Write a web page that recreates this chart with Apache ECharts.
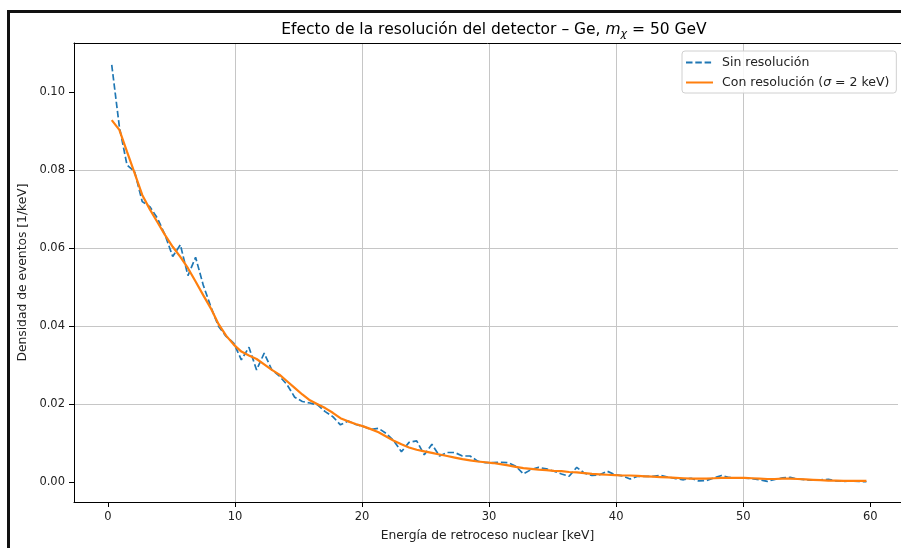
<!DOCTYPE html>
<html>
<head>
<meta charset="utf-8">
<script src="https://cdn.jsdelivr.net/npm/echarts@6/dist/echarts.min.js"></script>
<style>
  html, body { margin: 0; padding: 0; background: #fff; overflow: hidden; }
  #chart { width: 901px; height: 548px; }
</style>
</head>
<body>
<div id="chart"></div>
<script>
// Bin centres of the recoil-energy histogram [keV]
const energia = [
  0.3, 0.9, 1.5, 2.1, 2.7, 3.3, 3.9, 4.5, 5.1, 5.7,
  6.3, 6.9, 7.5, 8.1, 8.7, 9.3, 9.9, 10.5, 11.1, 11.7,
  12.3, 12.9, 13.5, 14.1, 14.7, 15.3, 15.9, 16.5, 17.1, 17.7,
  18.3, 18.9, 19.5, 20.1, 20.7, 21.3, 21.9, 22.5, 23.1, 23.7,
  24.3, 24.9, 25.5, 26.1, 26.7, 27.3, 27.9, 28.5, 29.1, 29.7,
  30.3, 30.9, 31.5, 32.1, 32.7, 33.3, 33.9, 34.5, 35.1, 35.7,
  36.3, 36.9, 37.5, 38.1, 38.7, 39.3, 39.9, 40.5, 41.1, 41.7,
  42.3, 42.9, 43.5, 44.1, 44.7, 45.3, 45.9, 46.5, 47.1, 47.7,
  48.3, 48.9, 49.5, 50.1, 50.7, 51.3, 51.9, 52.5, 53.1, 53.7,
  54.3, 54.9, 55.5, 56.1, 56.7, 57.3, 57.9, 58.5, 59.1, 59.7
];

// Event density without detector resolution [1/keV]
const sinResolucion = [
  0.1071, 0.0912, 0.0814, 0.0797, 0.0720, 0.0707, 0.0677, 0.0634, 0.0579, 0.0609,
  0.0530, 0.0577, 0.0506, 0.0450, 0.0400, 0.0374, 0.0357, 0.0314, 0.0346, 0.0288,
  0.0331, 0.0288, 0.0272, 0.0250, 0.0218, 0.0207, 0.0203, 0.0198, 0.0181, 0.0168,
  0.0147, 0.0157, 0.0148, 0.0143, 0.0135, 0.0138, 0.0125, 0.0106, 0.0078, 0.0102,
  0.0106, 0.0070, 0.0097, 0.0067, 0.0076, 0.0076, 0.0067, 0.0067, 0.0054, 0.0050,
  0.0050, 0.0051, 0.0050, 0.0041, 0.0021, 0.0032, 0.0038, 0.0034, 0.0028, 0.0021,
  0.0015, 0.0038, 0.0023, 0.0017, 0.0019, 0.0028, 0.0019, 0.0016, 0.0008, 0.0015,
  0.0015, 0.0015, 0.0017, 0.0013, 0.0009, 0.0006, 0.0010, 0.0003, 0.0004, 0.0011,
  0.0017, 0.0012, 0.0010, 0.0010, 0.0009, 0.0006, 0.0002, 0.0007, 0.0011, 0.0012,
  0.0008, 0.0006, 0.0005, 0.0006, 0.0007, 0.0003, 0.0002, 0.0003, 0.0002, 0.0001
];

// Event density smeared with a Gaussian resolution of sigma = 2 keV [1/keV]
const conResolucion = [
  0.0929, 0.0904, 0.0848, 0.0793, 0.0737, 0.0700, 0.0667, 0.0634, 0.0604, 0.0578,
  0.0549, 0.0515, 0.0480, 0.0446, 0.0406, 0.0376, 0.0353, 0.0335, 0.0325, 0.0316,
  0.0302, 0.0288, 0.0276, 0.0259, 0.0242, 0.0225, 0.0210, 0.0200, 0.0190, 0.0178,
  0.0164, 0.0156, 0.0149, 0.0143, 0.0136, 0.0128, 0.0117, 0.0106, 0.0097, 0.0089,
  0.0083, 0.0079, 0.0075, 0.0071, 0.0067, 0.0063, 0.0059, 0.0056, 0.0053, 0.0051,
  0.0049, 0.0046, 0.0043, 0.0039, 0.0036, 0.0034, 0.0032, 0.0031, 0.0029, 0.0028,
  0.0026, 0.0025, 0.0023, 0.0021, 0.0020, 0.0019, 0.0018, 0.0017, 0.0017, 0.0016,
  0.0015, 0.0014, 0.0013, 0.0012, 0.0011, 0.0010, 0.0009, 0.0009, 0.0009, 0.0010,
  0.0011, 0.0011, 0.0011, 0.0011, 0.0010, 0.0009, 0.0008, 0.0008, 0.0009, 0.0009,
  0.0008, 0.0007, 0.0006, 0.0005, 0.0004, 0.0004, 0.0003, 0.0003, 0.0003, 0.0003
];

const xTicks = [0, 10, 20, 30, 40, 50, 60];
const yTicks = [0, 0.02, 0.04, 0.06, 0.08, 0.10];

const FONT = 'DejaVu Sans';
const TXT = '#222';
// the plotted window runs on past the right edge of the figure
const X_RANGE = [-2.67, 62.42];
const Y_RANGE = [-0.0051, 0.1127];

const pairs = (xs, ys) => xs.map((x, i) => [x, ys[i]]);

const chart = echarts.init(document.getElementById('chart'), null, { renderer: 'canvas' });

const gridLine = {
  show: true, showMinLine: false, showMaxLine: false,
  lineStyle: { color: '#c6c6c6', width: 1 }
};

chart.setOption({
  animation: false,
  backgroundColor: '#fff',
  graphic: [
    // dark frame around the figure
    { type: 'rect', shape: { x: 7, y: 10, width: 900, height: 3 }, style: { fill: '#111' }, silent: true },
    { type: 'rect', shape: { x: 7, y: 10, width: 3, height: 540 }, style: { fill: '#111' }, silent: true },
    // the axes box is open on the right: it continues past the figure edge
    { type: 'rect', shape: { x: 898, y: 44, width: 4, height: 457 }, style: { fill: '#fff' }, silent: true, z: 100 },
    {
      type: 'text',
      x: 494, y: 30,
      style: {
        text: '{a|Efecto de la resolución del detector – Ge, }{m|m}{s|χ}{a| = 50 GeV}',
        align: 'center',
        verticalAlign: 'middle',
        rich: {
          a: { fontFamily: FONT, fontSize: 15.5, color: TXT, lineHeight: 20, verticalAlign: 'middle' },
          m: { fontFamily: FONT, fontSize: 15.5, fontStyle: 'italic', color: TXT, lineHeight: 20, verticalAlign: 'middle' },
          s: { fontFamily: FONT, fontSize: 11, fontStyle: 'italic', color: TXT, lineHeight: 11, verticalAlign: 'bottom' }
        }
      }
    }
  ],
  grid: { left: 74, top: 43, right: 0, height: 459, show: false },
  legend: {
    orient: 'vertical',
    left: 682, top: 51,
    itemWidth: 27, itemHeight: 14, itemGap: 7,
    padding: [5, 7, 4, 3],
    backgroundColor: 'rgba(255,255,255,0.85)',
    borderColor: '#d0d0d0', borderWidth: 1, borderRadius: 3,
    itemStyle: { opacity: 0 },
    textStyle: {
      fontFamily: FONT, fontSize: 12.5, color: TXT, padding: [0, 0, 0, 4],
      rich: {
        n: { fontFamily: FONT, fontSize: 12.5, color: TXT },
        i: { fontFamily: FONT, fontSize: 12.5, color: TXT, fontStyle: 'italic' }
      }
    },
    formatter: name => name.indexOf('σ') >= 0
      ? '{n|Con resolución (}{i|σ}{n| = 2 keV)}'
      : '{n|' + name + '}',
    data: ['Sin resolución', 'Con resolución (σ = 2 keV)']
  },
  xAxis: [
    {
      type: 'value',
      min: X_RANGE[0], max: X_RANGE[1],
      name: 'Energía de retroceso nuclear [keV]',
      nameLocation: 'middle', nameGap: 28,
      nameTextStyle: { fontFamily: FONT, fontSize: 12.3, color: TXT },
      axisLine: { show: true, onZero: false, lineStyle: { color: '#000', width: 1 } },
      axisTick: { show: true, customValues: xTicks, length: 5, lineStyle: { color: '#000', width: 1 } },
      axisLabel: { customValues: xTicks, fontFamily: FONT, fontSize: 11.5, color: TXT, margin: 9 },
      splitLine: gridLine
    },
    {
      // top spine
      type: 'value', position: 'top',
      min: X_RANGE[0], max: X_RANGE[1],
      axisLine: { show: true, onZero: false, lineStyle: { color: '#000', width: 1 } },
      axisTick: { show: false }, axisLabel: { show: false }, splitLine: { show: false }
    }
  ],
  yAxis: {
    type: 'value',
    min: Y_RANGE[0], max: Y_RANGE[1],
    name: 'Densidad de eventos [1/keV]',
    nameLocation: 'middle', nameGap: 41,
    nameTextStyle: { fontFamily: FONT, fontSize: 12.3, color: TXT },
    axisLine: { show: true, onZero: false, lineStyle: { color: '#000', width: 1 } },
    axisTick: { show: true, customValues: yTicks, length: 5, lineStyle: { color: '#000', width: 1 } },
    axisLabel: {
      customValues: yTicks, fontFamily: FONT, fontSize: 11.5, color: TXT, margin: 9,
      formatter: v => v.toFixed(2)
    },
    splitLine: gridLine
  },
  series: [
    {
      name: 'Sin resolución',
      type: 'line',
      data: pairs(energia, sinResolucion),
      showSymbol: false, symbol: 'none',
      color: '#1f77b4',
      lineStyle: { color: '#1f77b4', width: 1.7, type: [6.5, 2.8] },
      z: 2
    },
    {
      name: 'Con resolución (σ = 2 keV)',
      type: 'line',
      data: pairs(energia, conResolucion),
      showSymbol: false, symbol: 'none',
      color: '#ff7f0e',
      lineStyle: { color: '#ff7f0e', width: 2.2 },
      z: 3
    }
  ]
});
</script>
</body>
</html>
